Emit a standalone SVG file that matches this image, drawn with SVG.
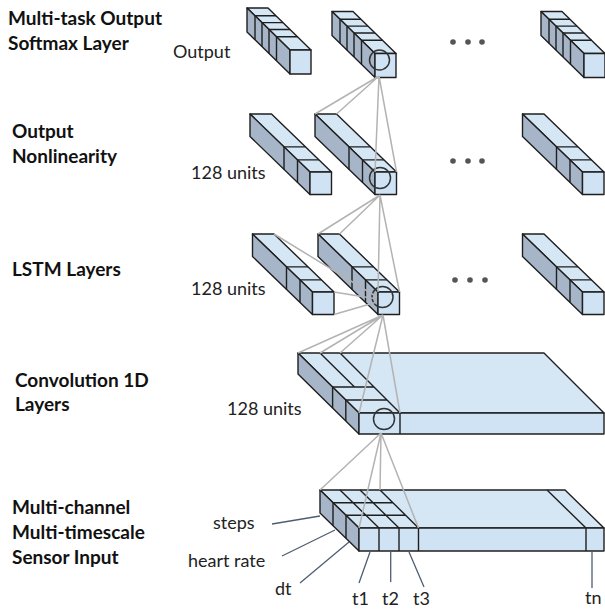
<svg xmlns="http://www.w3.org/2000/svg" width="605" height="612" viewBox="0 0 605 612">
<style>
.t{fill:#d5e6f5;stroke:#1f1f1f;stroke-width:1.4;stroke-linejoin:round}
.l{fill:#a6b6c8;stroke:#1f1f1f;stroke-width:1.4;stroke-linejoin:round}
.f{fill:#d0e3f4;stroke:#1f1f1f;stroke-width:1.4;stroke-linejoin:round}
.d{fill:none;stroke:#1f1f1f;stroke-width:1.4}
.c{fill:none;stroke:#333;stroke-width:1.5}
.cn{fill:none;stroke:#b3b3b3;stroke-width:1.5}
.ptr{fill:none;stroke:#4f5d73;stroke-width:1.3}
.h{font-family:Lato,"Open Sans",sans-serif;font-weight:bold;font-size:19px;fill:#111}
.r{font-family:Lato,"Open Sans",sans-serif;font-size:18px;fill:#222}
.dot{fill:#555}
</style>
<defs>
<g id="barOut">
<polygon class="t" points="0,0 21,0 64,42 43,42"/>
<polygon class="l" points="0,0 43,42 43,66 0,24"/>
<rect class="f" x="43" y="42" width="21" height="24"/>
<path class="d" d="M8,7.8h21M15,14.65h21M22,21.5h21M29.5,28.8h21M8,7.8v24M15,14.65v24M22,21.5v24M29.5,28.8v24"/>
</g>
<g id="barMid">
<polygon class="t" points="0,0 21.5,0 81.5,58 60,58"/>
<polygon class="l" points="0,0 60,58 60,80.5 0,22.5"/>
<rect class="f" x="60" y="58" width="21.5" height="22.5"/>
<path class="d" d="M34,32.9h21.5M47.5,45.9h21.5M34,32.9v22.5M47.5,45.9v22.5"/>
</g>
</defs>

<g id="labels">
<text class="h" x="8" y="25">Multi-task Output</text>
<text class="h" x="8" y="50">Softmax Layer</text>
<text class="h" x="12" y="138">Output</text>
<text class="h" x="12" y="163">Nonlinearity</text>
<text class="h" x="12" y="276">LSTM Layers</text>
<text class="h" x="15" y="387">Convolution 1D</text>
<text class="h" x="15" y="411">Layers</text>
<text class="h" x="12" y="514">Multi-channel</text>
<text class="h" x="12" y="539">Multi-timescale</text>
<text class="h" x="12" y="564">Sensor Input</text>
</g>

<g id="layer-output">
<text class="r" x="173" y="58">Output</text>
<use href="#barOut" x="247" y="8"/>
<use href="#barOut" x="332" y="11.5"/>
<use href="#barOut" x="541" y="11.5"/>
<circle class="c" cx="379.5" cy="60" r="10"/>
<circle class="dot" cx="453" cy="42" r="2.8"/>
<circle class="dot" cx="468" cy="42" r="2.8"/>
<circle class="dot" cx="482" cy="42" r="2.8"/>
</g>

<g id="layer-nonlinearity">
<text class="r" x="191" y="179">128 units</text>
<use href="#barMid" x="250" y="114"/>
<use href="#barMid" x="315" y="114"/>
<use href="#barMid" x="522.5" y="114"/>
<circle class="c" cx="380" cy="178" r="10.5"/>
<circle class="dot" cx="453" cy="161" r="2.8"/>
<circle class="dot" cx="468" cy="161" r="2.8"/>
<circle class="dot" cx="482" cy="161" r="2.8"/>
</g>

<g id="layer-lstm">
<text class="r" x="191" y="295">128 units</text>
<use href="#barMid" x="252.5" y="234"/>
<use href="#barMid" x="318" y="234"/>
<use href="#barMid" x="522.5" y="234"/>
<circle class="c" cx="382.5" cy="297" r="10.5"/>
<circle class="dot" cx="455" cy="280" r="2.8"/>
<circle class="dot" cx="470" cy="280" r="2.8"/>
<circle class="dot" cx="485" cy="280" r="2.8"/>
</g>

<g id="layer-conv">
<text class="r" x="227" y="415">128 units</text>
<polygon class="t" points="298,353 544,353 604,413 359,413"/>
<polygon class="l" points="298,353 359,413 359,434 298,374"/>
<rect class="f" x="359" y="413" width="245" height="21"/>
<path class="d" d="M320,353L354.5,387M340,353L400,413M332.6,387H374M345.8,400H387M400,413V434M332.6,387V408M345.8,400V421"/>
<circle class="c" cx="384" cy="419" r="10.5"/>
</g>

<g id="layer-input">
<polygon class="t" points="320,490 565,490 604,528 359,528"/>
<polygon class="l" points="320,490 359,528 359,551 320,513"/>
<rect class="f" x="359" y="528" width="245" height="23"/>
<path class="d" d="M333,502.7H393M346,515.3H406M340,490L379,528M360,490L399,528M380,490L418.5,528M379,528V551M399,528V551M418.5,528V551M333,502.7V525.7M346,515.3V538.3M547,490L586,528M586,528V551"/>
<text class="r" x="213" y="529">steps</text>
<text class="r" x="188" y="567">heart rate</text>
<text class="r" x="275" y="595">dt</text>
<text class="r" x="352" y="605">t1</text>
<text class="r" x="382" y="605">t2</text>
<text class="r" x="413" y="605">t3</text>
<text class="r" x="585" y="604">tn</text>
<path class="ptr" d="M272,524L320,516M282,556L335,530M300,583L349,542M370,552L359,583M390.7,552V582M409,552L424,587M592,551V588"/>
</g>

<g id="connectors">
<path class="cn" d="M379,76L315,114M379,76L336.5,114M379,76L375,172M379,76L396.5,172"/>
<path class="cn" d="M380,195L318,234M380,195L339.5,234M380,195L378,292M380,195L399.5,292"/>
<path class="cn" d="M274,234L377,297M334,292L377,299M334,314.5L377,302"/>
<path class="cn" d="M383,315L298,353M383,315L320,353M383,315L340,353M383,315L359,413M383,315L400,413"/>
<path class="cn" d="M381,433L320,490M381,433L380,490M381,433L359,528M381,433L418.5,528"/>
</g>
</svg>
